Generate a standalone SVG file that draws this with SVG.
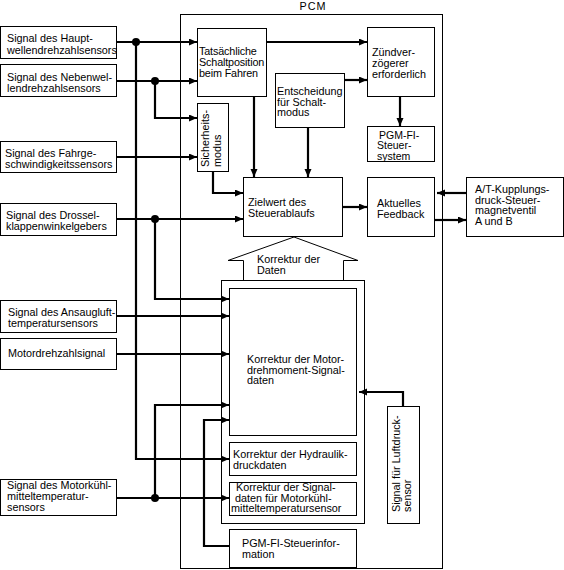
<svg xmlns="http://www.w3.org/2000/svg" width="564" height="570" viewBox="0 0 564 570">
<style>
.b{fill:#fff;stroke:#000;stroke-width:1}
.c{fill:none;stroke:#000;stroke-width:2.2}
.a{marker-end:url(#ah)}
text{font-family:"Liberation Sans",Arial,sans-serif;font-size:10.8px;fill:#000}
.s{font-size:10.5px}
</style>
<defs>
<marker id="ah" markerUnits="userSpaceOnUse" markerWidth="9" markerHeight="8" refX="8" refY="3.5" orient="auto">
<path d="M0,0 L8,3.5 L0,7 z" fill="#000"/>
</marker>
</defs>
<rect width="564" height="570" fill="#fff"/>

<g id="pcm">
<rect class="b" x="180.5" y="14.5" width="262" height="554" fill="none"/>
<text x="313" y="10" text-anchor="middle" letter-spacing="1">PCM</text>
</g>

<g id="in1"><rect class="b" x="0.5" y="26.5" width="116" height="32"/>
<text x="7" y="42">Signal des Haupt-<tspan x="7" dy="12">wellendrehzahlsensors</tspan></text></g>
<g id="in2"><rect class="b" x="0.5" y="64.5" width="116" height="32"/>
<text x="7" y="81">Signal des Nebenwel-<tspan x="7" dy="11">lendrehzahlsensors</tspan></text></g>
<g id="in3"><rect class="b" x="0.5" y="141.5" width="116" height="31"/>
<text x="5" y="157">Signal des Fahrge-<tspan x="5" dy="11">schwindigkeitssensors</tspan></text></g>
<g id="in4"><rect class="b" x="0.5" y="203.5" width="116" height="32"/>
<text x="6" y="219">Signal des Drossel-<tspan x="6" dy="11">klappenwinkelgebers</tspan></text></g>
<g id="in5"><rect class="b" x="0.5" y="300.5" width="116" height="32"/>
<text x="8" y="316">Signal des Ansaugluft-<tspan x="8" dy="11">temperatursensors</tspan></text></g>
<g id="in6"><rect class="b" x="0.5" y="338.5" width="116" height="31"/>
<text x="8" y="357">Motordrehzahlsignal</text></g>
<g id="in7"><rect class="b" x="0.5" y="479.5" width="116" height="36"/>
<text x="7" y="489">Signal des Motorkühl-<tspan x="7" dy="11">mitteltemperatur-</tspan><tspan x="7" dy="11">sensors</tspan></text></g>

<g id="tats"><rect class="b" x="197.5" y="28.5" width="69" height="68"/>
<text x="199" y="55" letter-spacing="-0.15">Tatsächliche<tspan x="199" dy="11">Schaltposition</tspan><tspan x="199" dy="10.5">beim Fahren</tspan></text></g>
<g id="sicher"><rect class="b" x="197.5" y="103.5" width="31" height="68"/>
<text transform="translate(209,167) rotate(-90)">Sicherheits-<tspan x="0" dy="12">modus</tspan></text></g>
<g id="entsch"><rect class="b" x="275.5" y="73.5" width="69" height="54"/>
<text x="277" y="95">Entscheidung<tspan x="277" dy="10.5">für Schalt-</tspan><tspan x="277" dy="10.5">modus</tspan></text></g>
<g id="zuend"><rect class="b" x="367.5" y="27.5" width="67" height="69"/>
<text x="372" y="56">Zündver-<tspan x="372" dy="11">zögerer</tspan><tspan x="372" dy="11">erforderlich</tspan></text></g>
<g id="pgmsys"><rect class="b" x="367.5" y="126.5" width="67" height="35"/>
<text class="s" x="379" y="138.5">PGM-FI-<tspan x="377" dy="10.5">Steuer-</tspan><tspan x="377" dy="10.5">system</tspan></text></g>
<g id="zielwert"><rect class="b" x="243.5" y="177.5" width="99" height="59"/>
<text x="248" y="206">Zielwert des<tspan x="248" dy="11">Steuerablaufs</tspan></text></g>
<g id="aktuell"><rect class="b" x="367.5" y="177.5" width="67" height="59"/>
<text x="377" y="207">Aktuelles<tspan x="377" dy="10.5">Feedback</tspan></text></g>
<g id="at"><rect class="b" x="466.5" y="177.5" width="97" height="59"/>
<text x="475" y="193">A/T-Kupplungs-<tspan x="475" dy="10.5">druck-Steuer-</tspan><tspan x="475" dy="10.5">magnetventil</tspan><tspan x="475" dy="10.5">A und B</tspan></text></g>

<g id="korrektur-daten">
<polygon class="b" points="243.5,280.5 243.5,260.5 228,260.5 294,237 358,260.5 343.5,260.5 343.5,280.5"/>
<text x="257" y="263">Korrektur der<tspan x="257" dy="10.5">Daten</tspan></text></g>
<g id="outer"><rect class="b" x="221.5" y="280.5" width="143" height="243"/></g>
<g id="motor"><rect class="b" x="229.5" y="288.5" width="127" height="147"/>
<text x="247" y="363">Korrektur der Motor-<tspan x="247" dy="10.5">drehmoment-Signal-</tspan><tspan x="247" dy="10.5">daten</tspan></text></g>
<g id="hydraulik"><rect class="b" x="229.5" y="442.5" width="127" height="33"/>
<text x="233" y="458">Korrektur der Hydraulik-<tspan x="233" dy="11">druckdaten</tspan></text></g>
<g id="signaldaten"><rect class="b" x="229.5" y="482.5" width="127" height="33"/>
<text x="236" y="491">Korrektur der Signal-<tspan x="235" dy="10.5">daten für Motorkühl-</tspan><tspan x="231" dy="10.5">mitteltemperatursensor</tspan></text></g>
<g id="pgminfo"><rect class="b" x="229.5" y="529.5" width="127" height="38"/>
<text x="242" y="547">PGM-FI-Steuerinfor-<tspan x="242" dy="10.5">mation</tspan></text></g>
<g id="luftdruck"><rect class="b" x="387.5" y="406.5" width="32" height="117"/>
<text transform="translate(400,512) rotate(-90)">Signal für Luftdruck-<tspan x="0" dy="11">sensor</tspan></text></g>

<g id="connectors">
<path class="c a" d="M116,42 H197"/>
<path class="c a" d="M136,42 V459 H229"/>
<path class="c a" d="M116,81 H197"/>
<path class="c a" d="M155,81 V118 H197"/>
<path class="c a" d="M116,157 H197"/>
<path class="c a" d="M266,42 H367"/>
<path class="c a" d="M344,80 H367"/>
<path class="c a" d="M400,96 V126"/>
<path class="c a" d="M254,96 V177"/>
<path class="c a" d="M308,127 V177"/>
<path class="c a" d="M213,171 V193 H243"/>
<path class="c a" d="M116,219 H243"/>
<path class="c a" d="M155,219 V299 H229"/>
<path class="c a" d="M342,207 H367"/>
<path class="c a" d="M466,193 H437"/>
<path class="c a" d="M434,220 H466"/>
<path class="c a" d="M116,316 H229"/>
<path class="c a" d="M116,354 H229"/>
<path class="c a" d="M403,406 V392 H359"/>
<path class="c a" d="M116,498 H229"/>
<path class="c a" d="M155,498 V405 H229"/>
<path class="c a" d="M229,546 H204 V420 H229"/>
<circle cx="136" cy="42" r="4"/>
<circle cx="155" cy="81" r="4"/>
<circle cx="155" cy="219" r="4"/>
<circle cx="155" cy="498" r="4"/>
</g>
</svg>
